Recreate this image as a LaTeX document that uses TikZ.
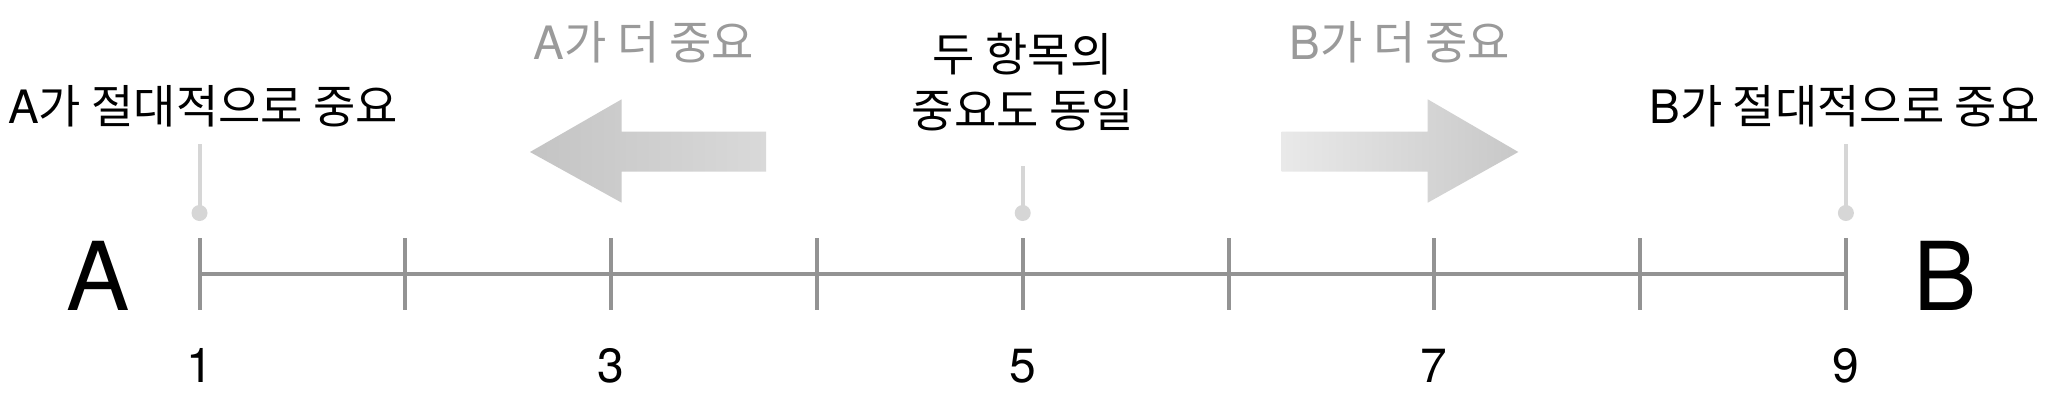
\documentclass[tikz,border=0pt]{standalone}
\usepackage{fontspec}
\setmainfont{TeX Gyre Heros}
\newfontfamily\kr{Noto Sans CJK KR}
\definecolor{axisgray}{HTML}{939393}
\definecolor{pingray}{HTML}{D6D6D6}
\definecolor{labelgray}{HTML}{9A9A9A}
\definecolor{arrdark}{HTML}{C4C4C4}
\definecolor{arrmid}{HTML}{D9D9D9}
\definecolor{arrlight}{HTML}{E9E9E9}
\definecolor{arrdark2}{HTML}{C8C8C8}
\begin{document}
\begin{tikzpicture}[x=1pt,y=-1pt]
\tikzset{
  axisline/.style={draw=axisgray, line width=4pt},
  pinline/.style={draw=pingray, line width=4pt},
  pindot/.style={fill=pingray},
  lbl/.style={inner sep=0pt, anchor=base, font=\fontsize{46}{56}\selectfont},
  graylbl/.style={lbl, text=labelgray},
  numlbl/.style={inner sep=0pt, anchor=base, font=\fontsize{48}{56}\selectfont},
  biglbl/.style={inner sep=0pt, anchor=base, font=\fontsize{95}{100}\selectfont},
}
\useasboundingbox (0,0) rectangle (2052,402);
\fill[white] (0,0) rectangle (2052,402);
% tick coordinates
\foreach \i in {1,...,9}{
  \coordinate (t\i) at ({199.5+(\i-1)*205.8},274);
  \coordinate (u\i) at ({199.5+(\i-1)*205.8},238);
  \coordinate (d\i) at ({199.5+(\i-1)*205.8},310);
}
% axis
\draw[axisline] (t1) -- (t9);
\foreach \i in {1,...,9}{
  \draw[axisline] (u\i) -- (d\i);
}
% pins
\coordinate (p1top) at (199.5,144);
\coordinate (p1dot) at (199.5,213);
\coordinate (p5top) at (1022.7,166);
\coordinate (p5dot) at (1022.7,213);
\coordinate (p9top) at (1845.9,144);
\coordinate (p9dot) at (1845.9,213);
\draw[pinline] (p1top) -- (p1dot);
\draw[pinline] (p5top) -- (p5dot);
\draw[pinline] (p9top) -- (p9dot);
\fill[pindot] (p1dot) circle (8);
\fill[pindot] (p5dot) circle (8);
\fill[pindot] (p9dot) circle (8);
% arrows
\shade[left color=arrdark, right color=arrmid]
  (530,152) -- (621.7,99.3) -- (621.7,131.7) -- (766,131.7) -- (766,171.7)
  -- (621.7,171.7) -- (621.7,202.7) -- cycle;
\shade[left color=arrlight, right color=arrdark2]
  (1518.3,152) -- (1427.7,99.3) -- (1427.7,131.7) -- (1281.7,131.7) -- (1281.7,171.7)
  -- (1427.7,171.7) -- (1427.7,202.7) -- cycle;
% labels
\node[lbl] (absA) at (203,123) {A{\kr 가 절대적으로 중요}};
\node[lbl] (absB) at (1844.5,123) {B{\kr 가 절대적으로 중요}};
\node[graylbl] (moreA) at (644,59) {A{\kr 가 더 중요}};
\node[graylbl] (moreB) at (1400,59) {B{\kr 가 더 중요}};
\node[lbl] (mid1) at (1022.7,71) {\kr 두 항목의};
\node[lbl] (mid2) at (1022.7,127) {\kr 중요도 동일};
% numbers
\node[numlbl] (n1) at (199.5,382) {1};
\node[numlbl] (n3) at (611.1,382) {3};
\node[numlbl] (n5) at (1022.7,382) {5};
\node[numlbl] (n7) at (1434.3,382) {7};
\node[numlbl] (n9) at (1845.9,382) {9};
% end letters
\node[biglbl] (bigA) at (98,310) {A};
\node[biglbl] (bigB) at (1945,310) {B};
\end{tikzpicture}
\end{document}
